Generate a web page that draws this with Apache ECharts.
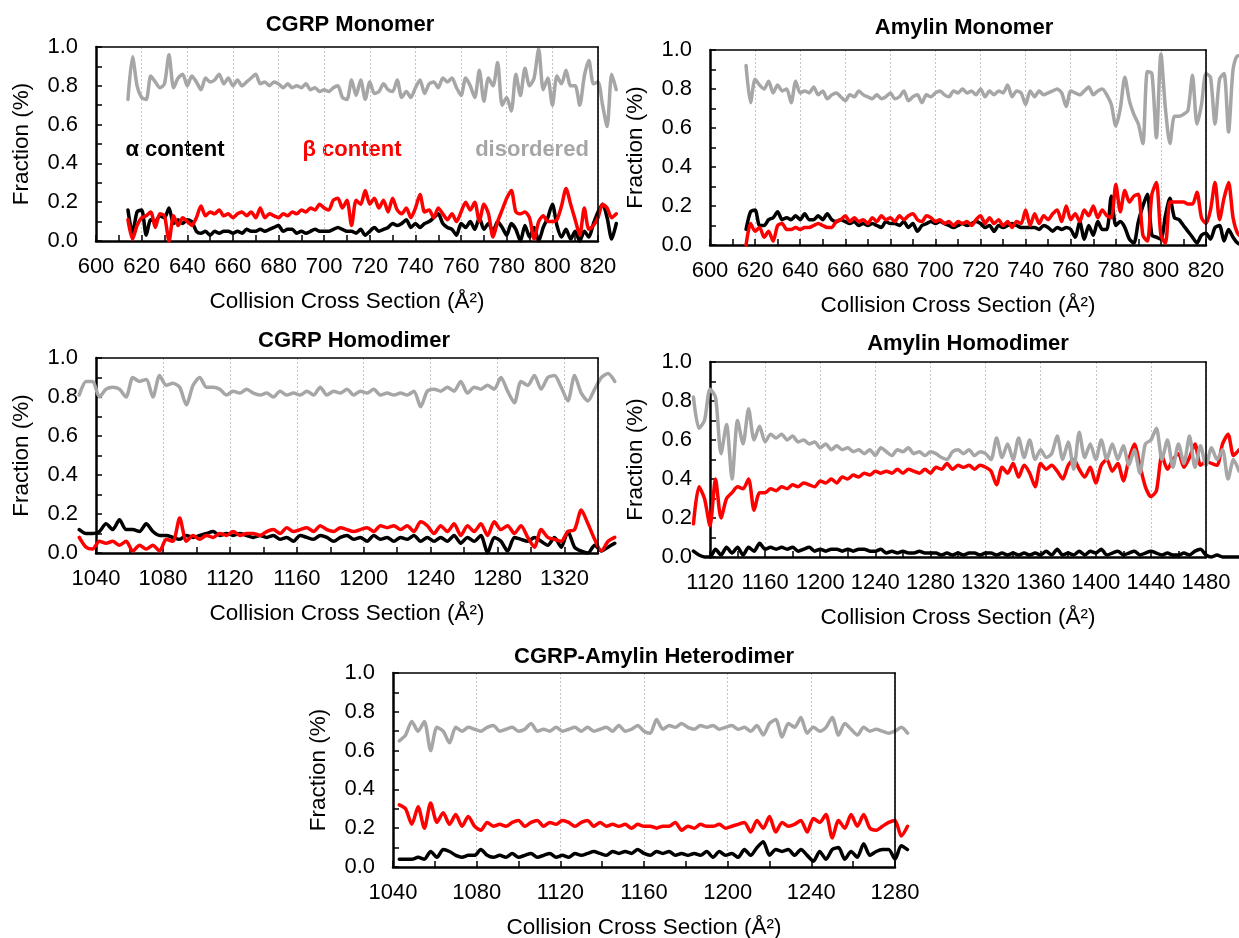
<!DOCTYPE html>
<html lang="en">
<head>
<meta charset="UTF-8">
<title>Secondary structure vs collision cross section</title>
<script src="https://cdn.jsdelivr.net/npm/echarts@6.0.0/dist/echarts.min.js"></script>
<style>
  html, body { margin: 0; padding: 0; background: #fff; }
  #chart { width: 1239px; height: 938px; }
</style>
</head>
<body>
<div id="chart"></div>
<script>
const cgrpMonoStart = 614, cgrpMonoStep = 2;
const cgrpMonoAlpha = [
  0.16,0.04,0.15,0.16,0.03,0.11,0.10,0.13,0.12,0.17,
  0.09,0.11,0.09,0.11,0.10,0.05,0.04,0.05,0.03,0.05,
  0.04,0.05,0.05,0.04,0.05,0.04,0.06,0.05,0.05,0.06,
  0.05,0.06,0.07,0.08,0.05,0.06,0.06,0.04,0.05,0.04,
  0.05,0.06,0.05,0.05,0.05,0.06,0.07,0.06,0.05,0.05,
  0.04,0.06,0.03,0.05,0.07,0.05,0.06,0.07,0.09,0.08,
  0.09,0.11,0.07,0.09,0.07,0.09,0.10,0.12,0.14,0.09,
  0.07,0.06,0.03,0.09,0.07,0.10,0.06,0.12,0.06,0.09,
  0.05,0.10,0.07,0.03,0.09,0.06,0.00,0.08,0.02,0.07,
  0.00,0.07,0.12,0.19,0.08,0.02,0.06,0.01,0.05,0.00,
  0.05,0.02,0.09,0.15,0.19,0.12,0.01,0.09];
const cgrpMonoBeta = [
  0.11,0.01,0.08,0.12,0.13,0.15,0.07,0.14,0.13,0.00,
  0.13,0.08,0.12,0.10,0.08,0.12,0.18,0.13,0.15,0.14,
  0.16,0.13,0.14,0.12,0.14,0.15,0.13,0.15,0.12,0.17,
  0.12,0.14,0.13,0.12,0.14,0.13,0.15,0.14,0.16,0.15,
  0.17,0.16,0.19,0.17,0.16,0.21,0.22,0.17,0.21,0.08,
  0.21,0.19,0.26,0.19,0.22,0.17,0.21,0.15,0.22,0.16,
  0.14,0.17,0.12,0.17,0.24,0.15,0.16,0.12,0.17,0.14,
  0.11,0.14,0.10,0.15,0.20,0.16,0.20,0.10,0.19,0.14,
  0.02,0.10,0.16,0.22,0.26,0.15,0.14,0.15,0.12,0.01,
  0.10,0.13,0.10,0.10,0.11,0.18,0.27,0.19,0.11,0.03,
  0.17,0.06,0.08,0.12,0.19,0.17,0.12,0.14];
const cgrpMonoDis = [
  0.73,0.95,0.80,0.74,0.73,0.85,0.82,0.79,0.81,0.96,
  0.79,0.84,0.86,0.80,0.85,0.82,0.78,0.84,0.82,0.83,
  0.86,0.81,0.84,0.80,0.83,0.80,0.82,0.84,0.86,0.81,
  0.82,0.80,0.82,0.81,0.79,0.81,0.79,0.80,0.79,0.81,
  0.78,0.79,0.77,0.78,0.77,0.79,0.80,0.74,0.73,0.83,
  0.75,0.83,0.73,0.82,0.76,0.77,0.81,0.78,0.77,0.83,
  0.74,0.77,0.74,0.79,0.83,0.76,0.81,0.82,0.79,0.84,
  0.82,0.84,0.79,0.75,0.84,0.80,0.74,0.88,0.72,0.84,
  0.80,0.92,0.70,0.74,0.67,0.86,0.75,0.89,0.80,0.84,
  0.99,0.78,0.84,0.70,0.85,0.81,0.88,0.80,0.80,0.70,
  0.85,0.93,0.81,0.82,0.70,0.59,0.86,0.78];

const amyMonoStart = 616, amyMonoStep = 2;
const amyMonoAlpha = [
  0.08,0.17,0.18,0.10,0.10,0.13,0.14,0.17,0.13,0.14,
  0.13,0.15,0.13,0.16,0.13,0.13,0.15,0.13,0.16,0.13,
  0.12,0.13,0.12,0.11,0.12,0.10,0.11,0.10,0.11,0.10,
  0.09,0.12,0.11,0.11,0.10,0.12,0.09,0.11,0.07,0.10,
  0.11,0.12,0.11,0.12,0.11,0.10,0.09,0.10,0.11,0.10,
  0.11,0.12,0.11,0.09,0.10,0.07,0.10,0.09,0.10,0.11,
  0.10,0.09,0.09,0.09,0.09,0.08,0.10,0.09,0.07,0.09,
  0.08,0.09,0.08,0.04,0.12,0.03,0.10,0.05,0.12,0.08,
  0.08,0.25,0.10,0.12,0.09,0.03,0.01,0.12,0.20,0.26,
  0.05,0.04,0.03,0.15,0.24,0.14,0.13,0.10,0.07,0.04,
  0.01,0.05,0.06,0.03,0.09,0.10,0.02,0.08,0.04,0.01,
  0.00];
const amyMonoBeta = [
  0.00,0.11,0.07,0.09,0.04,0.07,0.02,0.10,0.11,0.08,
  0.08,0.09,0.08,0.09,0.09,0.10,0.11,0.10,0.09,0.09,
  0.12,0.13,0.15,0.12,0.14,0.12,0.13,0.11,0.14,0.12,
  0.15,0.13,0.14,0.12,0.15,0.13,0.15,0.16,0.13,0.12,
  0.15,0.14,0.12,0.13,0.11,0.12,0.10,0.12,0.11,0.12,
  0.10,0.13,0.15,0.11,0.14,0.11,0.13,0.10,0.12,0.09,
  0.12,0.11,0.18,0.10,0.16,0.11,0.15,0.13,0.16,0.18,
  0.12,0.20,0.13,0.16,0.12,0.18,0.15,0.20,0.14,0.18,
  0.15,0.14,0.31,0.17,0.28,0.22,0.25,0.26,0.05,0.02,
  0.26,0.32,0.05,0.01,0.22,0.22,0.22,0.22,0.21,0.21,
  0.27,0.14,0.11,0.18,0.32,0.13,0.24,0.32,0.14,0.06,
  0.04];
const amyMonoDis = [
  0.92,0.73,0.85,0.82,0.80,0.84,0.78,0.82,0.79,0.80,
  0.73,0.84,0.78,0.79,0.78,0.81,0.77,0.79,0.75,0.77,
  0.78,0.76,0.74,0.77,0.76,0.79,0.77,0.76,0.75,0.77,
  0.75,0.76,0.78,0.75,0.76,0.79,0.74,0.76,0.77,0.73,
  0.77,0.76,0.78,0.79,0.77,0.76,0.79,0.78,0.80,0.78,
  0.79,0.77,0.80,0.76,0.79,0.77,0.79,0.78,0.82,0.76,
  0.79,0.78,0.72,0.79,0.76,0.79,0.77,0.78,0.79,0.80,
  0.78,0.71,0.79,0.78,0.77,0.79,0.81,0.77,0.79,0.80,
  0.77,0.72,0.61,0.70,0.86,0.74,0.67,0.62,0.52,0.89,
  0.88,0.55,0.98,0.70,0.52,0.66,0.66,0.67,0.69,0.87,
  0.62,0.72,0.88,0.86,0.62,0.85,0.88,0.58,0.90,0.97,
  0.97];

const cgrpDimStart = 1030, cgrpDimStep = 4;
const cgrpDimAlpha = [
  0.12,0.10,0.10,0.11,0.15,0.12,0.17,0.12,0.12,0.11,
  0.15,0.11,0.09,0.09,0.08,0.07,0.09,0.08,0.09,0.10,
  0.11,0.09,0.10,0.09,0.10,0.09,0.08,0.09,0.08,0.09,
  0.07,0.08,0.06,0.09,0.08,0.07,0.09,0.08,0.06,0.08,
  0.09,0.07,0.08,0.06,0.09,0.07,0.08,0.06,0.08,0.07,
  0.09,0.06,0.08,0.06,0.08,0.06,0.09,0.05,0.08,0.06,
  0.09,0.00,0.08,0.06,0.01,0.08,0.07,0.06,0.08,0.06,
  0.04,0.08,0.03,0.11,0.03,0.01,0.00,0.04,0.01,0.03,
  0.05];
const cgrpDimBeta = [
  0.08,0.03,0.02,0.06,0.05,0.06,0.04,0.06,0.01,0.04,
  0.02,0.04,0.01,0.07,0.06,0.18,0.06,0.09,0.07,0.09,
  0.08,0.10,0.09,0.11,0.09,0.10,0.10,0.09,0.11,0.12,
  0.10,0.13,0.11,0.12,0.13,0.11,0.14,0.12,0.11,0.13,
  0.12,0.11,0.12,0.13,0.11,0.14,0.13,0.14,0.12,0.14,
  0.11,0.16,0.14,0.10,0.14,0.11,0.15,0.09,0.14,0.11,
  0.15,0.09,0.16,0.12,0.14,0.10,0.14,0.08,0.03,0.12,
  0.08,0.07,0.06,0.11,0.12,0.22,0.15,0.07,0.01,0.06,
  0.08];
const cgrpDimDis = [
  0.81,0.88,0.88,0.80,0.84,0.85,0.84,0.80,0.90,0.88,
  0.89,0.80,0.91,0.86,0.87,0.85,0.76,0.86,0.90,0.85,
  0.85,0.84,0.81,0.83,0.82,0.84,0.82,0.81,0.82,0.80,
  0.83,0.81,0.82,0.81,0.83,0.81,0.85,0.81,0.83,0.82,
  0.84,0.81,0.83,0.82,0.84,0.81,0.82,0.81,0.82,0.81,
  0.83,0.75,0.83,0.84,0.83,0.85,0.83,0.88,0.82,0.85,
  0.84,0.86,0.84,0.90,0.83,0.77,0.88,0.86,0.91,0.84,
  0.90,0.91,0.85,0.78,0.91,0.82,0.78,0.84,0.90,0.92,
  0.88];

const amyDimStart = 1108, amyDimStep = 4;
const amyDimAlpha = [
  0.03,0.01,0.00,0.00,0.04,0.01,0.05,0.02,0.05,0.01,
  0.05,0.03,0.07,0.04,0.05,0.04,0.05,0.04,0.05,0.03,
  0.04,0.05,0.03,0.04,0.03,0.04,0.04,0.03,0.04,0.03,
  0.04,0.04,0.03,0.03,0.04,0.02,0.03,0.02,0.03,0.02,
  0.02,0.03,0.02,0.02,0.02,0.01,0.02,0.01,0.02,0.01,
  0.02,0.02,0.01,0.02,0.02,0.01,0.02,0.01,0.02,0.01,
  0.02,0.01,0.02,0.01,0.03,0.01,0.04,0.01,0.02,0.01,
  0.03,0.01,0.03,0.02,0.04,0.01,0.02,0.03,0.01,0.02,
  0.03,0.01,0.02,0.03,0.02,0.01,0.02,0.01,0.01,0.02,
  0.01,0.03,0.04,0.01,0.00,0.01,0.00,0.00,0.00,0.00];
const amyDimBeta = [
  0.17,0.36,0.30,0.16,0.40,0.20,0.30,0.33,0.36,0.35,
  0.40,0.24,0.33,0.33,0.35,0.34,0.36,0.35,0.37,0.36,
  0.38,0.37,0.36,0.39,0.38,0.40,0.38,0.41,0.40,0.42,
  0.41,0.43,0.42,0.44,0.43,0.44,0.43,0.45,0.43,0.45,
  0.44,0.43,0.45,0.43,0.46,0.45,0.48,0.45,0.47,0.46,
  0.47,0.45,0.47,0.46,0.44,0.37,0.46,0.43,0.48,0.41,
  0.47,0.43,0.36,0.48,0.45,0.47,0.44,0.40,0.47,0.50,
  0.45,0.41,0.46,0.38,0.47,0.50,0.44,0.48,0.39,0.50,
  0.58,0.47,0.36,0.31,0.34,0.52,0.45,0.50,0.53,0.46,
  0.51,0.58,0.47,0.49,0.48,0.47,0.58,0.63,0.52,0.55];
const amyDimDis = [
  0.82,0.66,0.70,0.86,0.82,0.53,0.68,0.40,0.70,0.58,
  0.76,0.60,0.67,0.59,0.63,0.61,0.63,0.60,0.62,0.59,
  0.60,0.58,0.59,0.56,0.58,0.55,0.57,0.55,0.56,0.54,
  0.55,0.53,0.55,0.52,0.56,0.54,0.52,0.55,0.54,0.56,
  0.53,0.54,0.52,0.54,0.53,0.51,0.50,0.54,0.55,0.53,
  0.55,0.52,0.54,0.53,0.50,0.61,0.51,0.58,0.50,0.61,
  0.51,0.60,0.50,0.55,0.51,0.53,0.62,0.50,0.59,0.45,
  0.64,0.51,0.58,0.50,0.60,0.50,0.58,0.50,0.57,0.47,
  0.55,0.43,0.58,0.60,0.66,0.50,0.60,0.46,0.58,0.48,
  0.62,0.46,0.57,0.47,0.56,0.50,0.55,0.40,0.50,0.44];

const heteroStart = 1043, heteroStep = 3;
const heteroAlpha = [
  0.04,0.04,0.04,0.05,0.04,0.08,0.05,0.09,0.08,0.06,
  0.05,0.06,0.06,0.09,0.06,0.05,0.06,0.05,0.07,0.05,
  0.06,0.07,0.05,0.06,0.07,0.05,0.06,0.05,0.07,0.06,
  0.07,0.08,0.07,0.06,0.08,0.07,0.08,0.07,0.09,0.07,
  0.06,0.08,0.07,0.08,0.06,0.07,0.06,0.07,0.06,0.08,
  0.05,0.08,0.06,0.07,0.05,0.09,0.06,0.10,0.13,0.06,
  0.09,0.08,0.09,0.06,0.09,0.06,0.03,0.08,0.04,0.09,
  0.10,0.04,0.08,0.05,0.12,0.06,0.08,0.09,0.09,0.04,
  0.11,0.09];
const heteroBeta = [
  0.32,0.30,0.22,0.31,0.20,0.33,0.23,0.28,0.22,0.27,
  0.21,0.26,0.21,0.19,0.23,0.21,0.22,0.21,0.23,0.24,
  0.21,0.23,0.24,0.21,0.23,0.22,0.24,0.23,0.21,0.23,
  0.24,0.21,0.23,0.21,0.22,0.21,0.22,0.20,0.22,0.21,
  0.21,0.20,0.21,0.21,0.23,0.19,0.21,0.20,0.22,0.21,
  0.21,0.22,0.20,0.21,0.22,0.23,0.18,0.24,0.20,0.26,
  0.18,0.23,0.21,0.22,0.24,0.18,0.25,0.23,0.27,0.15,
  0.24,0.20,0.27,0.21,0.27,0.20,0.19,0.21,0.23,0.24,
  0.16,0.21];
const heteroDis = [
  0.65,0.68,0.75,0.70,0.75,0.60,0.72,0.70,0.64,0.72,
  0.70,0.72,0.71,0.70,0.72,0.73,0.70,0.71,0.72,0.70,
  0.71,0.74,0.70,0.71,0.70,0.72,0.70,0.71,0.72,0.70,
  0.72,0.70,0.71,0.72,0.70,0.73,0.70,0.71,0.73,0.70,
  0.69,0.76,0.71,0.73,0.72,0.74,0.72,0.71,0.73,0.72,
  0.73,0.71,0.72,0.73,0.71,0.72,0.70,0.73,0.68,0.74,
  0.76,0.67,0.74,0.72,0.77,0.69,0.72,0.70,0.72,0.77,
  0.68,0.74,0.71,0.68,0.72,0.70,0.71,0.70,0.69,0.70,
  0.72,0.69];

const FONT = '"Liberation Sans", Arial, sans-serif';
const BLACK = '#000000', RED = '#ff0000', GREY = '#a6a6a6';

const panels = [
  { title: 'CGRP Monomer', tx: 350, ty: 25,
    box: { left: 96, top: 47, width: 502, height: 194 },
    xr: [600, 820, 20], start: cgrpMonoStart, step: cgrpMonoStep,
    a: cgrpMonoAlpha, b: cgrpMonoBeta, d: cgrpMonoDis },
  { title: 'Amylin Monomer', tx: 964, ty: 28,
    box: { left: 710, top: 50, width: 496, height: 195 },
    xr: [600, 820, 20], start: amyMonoStart, step: amyMonoStep,
    a: amyMonoAlpha, b: amyMonoBeta, d: amyMonoDis },
  { title: 'CGRP Homodimer', tx: 354, ty: 341,
    box: { left: 96, top: 358, width: 502, height: 195 },
    xr: [1040, 1340, 40], hideMax: true, start: cgrpDimStart, step: cgrpDimStep,
    a: cgrpDimAlpha, b: cgrpDimBeta, d: cgrpDimDis },
  { title: 'Amylin Homodimer', tx: 968, ty: 344,
    box: { left: 710, top: 362, width: 496, height: 195 },
    xr: [1120, 1480, 40], start: amyDimStart, step: amyDimStep,
    a: amyDimAlpha, b: amyDimBeta, d: amyDimDis },
  { title: 'CGRP-Amylin Heterodimer', tx: 654, ty: 657,
    box: { left: 393, top: 673, width: 502, height: 194 },
    xr: [1040, 1280, 40], start: heteroStart, step: heteroStep,
    a: heteroAlpha, b: heteroBeta, d: heteroDis }
];

function toPoints(start, step, vals) {
  return vals.map((v, i) => [start + i * step, v]);
}

const chart = echarts.init(document.getElementById('chart'), null, { renderer: 'canvas' });

const grid = [], xAxis = [], yAxis = [], series = [], graphic = [];
const n = panels.length;
const frameLine = { show: true, onZero: false, lineStyle: { color: '#000', width: 1.6 } };

// visible frames and axes
panels.forEach((p, i) => {
  grid.push(Object.assign({ show: false, containLabel: false, outerBoundsMode: 'none' }, p.box));

  xAxis.push({
    gridIndex: i, type: 'value', min: p.xr[0], max: p.xr[1], interval: p.xr[2],
    name: 'Collision Cross Section (Å²)', nameLocation: 'middle', nameGap: 49,
    nameMoveOverlap: false,
    nameTextStyle: { fontFamily: FONT, fontSize: 22.5, color: '#000' },
    axisLine: { show: true, onZero: false, lineStyle: { color: '#000', width: 2.5 } },
    axisTick: { show: true, inside: true, length: 6, lineStyle: { color: '#000', width: 1.5 } },
    minorTick: { show: true, splitNumber: 2, length: 6, lineStyle: { color: '#000', width: 1.5 } },
    splitLine: { show: true, lineStyle: { color: '#c4c4c4', width: 1, type: [2, 2] } },
    axisLabel: { fontFamily: FONT, fontSize: 22, color: '#000', margin: 15,
      showMaxLabel: !p.hideMax, hideOverlap: false, formatter: v => String(v) }
  });

  yAxis.push({
    gridIndex: i, type: 'value', min: 0, max: 1, interval: 0.2,
    name: 'Fraction (%)', nameLocation: 'middle', nameGap: 63,
    nameMoveOverlap: false,
    nameTextStyle: { fontFamily: FONT, fontSize: 22.5, color: '#000' },
    axisLine: { show: true, onZero: false, lineStyle: { color: '#000', width: 2.5 } },
    axisTick: { show: true, inside: true, length: 6, lineStyle: { color: '#000', width: 1.5 } },
    minorTick: { show: true, splitNumber: 2, length: 6, lineStyle: { color: '#000', width: 1.5 } },
    splitLine: { show: false },
    axisLabel: { fontFamily: FONT, fontSize: 22, color: '#000', margin: 18,
      formatter: v => v.toFixed(1) }
  });

  graphic.push({
    type: 'text', x: p.tx, y: p.ty, silent: true,
    style: { text: p.title, textAlign: 'center', textVerticalAlign: 'middle',
      font: 'bold 22px ' + FONT, fill: '#000' }
  });
});

// top and right edges of each frame, drawn above the dotted grid lines
panels.forEach((p, i) => {
  xAxis.push({ gridIndex: i, type: 'value', position: 'top', min: p.xr[0], max: p.xr[1], z: 5,
    axisLine: frameLine, axisTick: { show: false }, axisLabel: { show: false }, splitLine: { show: false } });
  yAxis.push({ gridIndex: i, type: 'value', position: 'right', min: 0, max: 1, z: 5,
    axisLine: frameLine, axisTick: { show: false }, axisLabel: { show: false }, splitLine: { show: false } });
});

// hidden data grids on the same scale, spanning the whole sampled range,
// so the traces run past the frame like in the original figure
panels.forEach((p, i) => {
  const ppu = p.box.width / (p.xr[1] - p.xr[0]);
  const x0 = p.start, x1 = p.start + (p.d.length - 1) * p.step;
  grid.push({ show: false, containLabel: false, outerBoundsMode: 'none',
    left: p.box.left + (x0 - p.xr[0]) * ppu, width: (x1 - x0) * ppu,
    top: p.box.top, height: p.box.height });
  const ax = xAxis.length, ay = yAxis.length;
  xAxis.push({ gridIndex: n + i, type: 'value', min: x0, max: x1, show: false });
  yAxis.push({ gridIndex: n + i, type: 'value', min: 0, max: 1, show: false });

  [[p.a, BLACK, 'α content'], [p.b, RED, 'β content'], [p.d, GREY, 'disordered']].forEach(([vals, col, nm]) => {
    series.push({
      type: 'line', name: nm, xAxisIndex: ax, yAxisIndex: ay,
      data: toPoints(p.start, p.step, vals),
      showSymbol: false, symbol: 'none', smooth: 0.25, clip: false,
      lineStyle: { color: col, width: 3.5, cap: 'round', join: 'round' },
      itemStyle: { color: col },
      emphasis: { disabled: true }, silent: true
    });
  });
});

// series labels inside the first panel
[['α content', 175, BLACK], ['β content', 352, RED], ['disordered', 532, GREY]].forEach(([t, x, c]) => {
  graphic.push({
    type: 'text', x: x, y: 150, silent: true,
    style: { text: t, textAlign: 'center', textVerticalAlign: 'middle',
      font: 'bold 22px ' + FONT, fill: c }
  });
});

chart.setOption({
  animation: false,
  backgroundColor: '#ffffff',
  textStyle: { fontFamily: FONT },
  grid, xAxis, yAxis, series, graphic
});
</script>
</body>
</html>
